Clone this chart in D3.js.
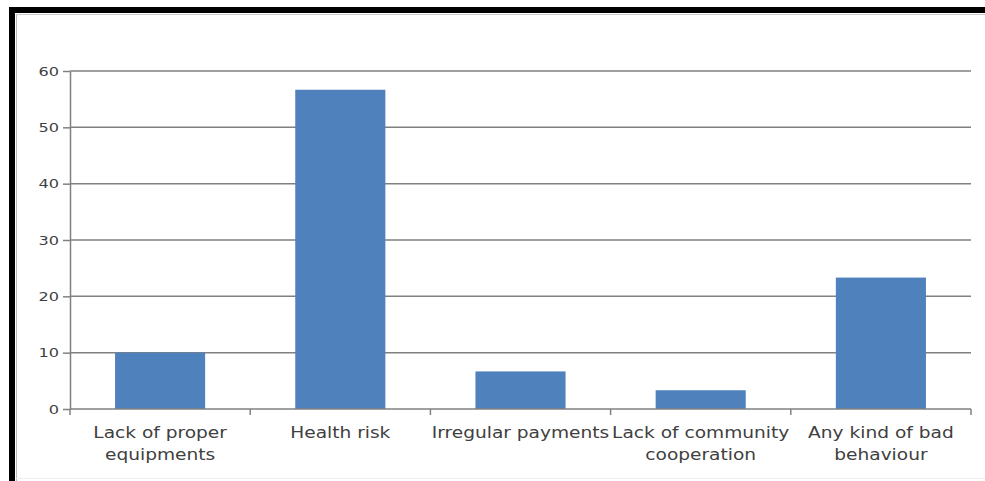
<!DOCTYPE html>
<html><head><meta charset="utf-8">
<script src="https://cdn.jsdelivr.net/npm/d3@7"></script>
<style>html,body{margin:0;padding:0;background:#fff;}svg{display:block;}</style>
</head><body>
<svg id="c" width="985" height="481"></svg>
<script>
const categories = [["Lack of proper","equipments"],["Health risk"],["Irregular payments"],["Lack of community","cooperation"],["Any kind of bad","behaviour"]];
const values = [10, 56.67, 6.67, 3.33, 23.33];
const yTicks = [0, 10, 20, 30, 40, 50, 60];

(function(){
const svg = d3.select("#c");
const mLeft = 70, mRight = 971, mTop = 71, mBottom = 409;
const sx = 1.24; // horizontal stretch of text

// frame
svg.append("rect").attr("x",9).attr("y",7).attr("width",976).attr("height",6).attr("fill","#000");
svg.append("rect").attr("x",9).attr("y",7).attr("width",6).attr("height",474).attr("fill","#000");
svg.append("line").attr("x1",16.5).attr("x2",16.5).attr("y1",14).attr("y2",481).attr("stroke","#bbb").attr("stroke-width",1);
svg.append("line").attr("x1",16).attr("x2",985).attr("y1",14.5).attr("y2",14.5).attr("stroke","#ccc").attr("stroke-width",1);
svg.append("line").attr("x1",16).attr("x2",985).attr("y1",478.5).attr("y2",478.5).attr("stroke","#eee").attr("stroke-width",1);

const x = d3.scaleBand().domain(categories.map((d,i)=>i)).range([mLeft,mRight]).paddingInner(0.5).paddingOuter(0.25);
const y = d3.scaleLinear().domain([0,60]).range([mBottom,mTop]);

// gridlines
svg.append("g").selectAll("line").data(yTicks.filter(t=>t>0)).join("line")
  .attr("x1",mLeft).attr("x2",mRight).attr("y1",d=>y(d)).attr("y2",d=>y(d))
  .attr("stroke","#808080").attr("stroke-width",1.5);

// bars
svg.append("g").selectAll("rect").data(values).join("rect")
  .attr("x",(d,i)=>x(i)).attr("width",x.bandwidth())
  .attr("y",d=>y(d)).attr("height",d=>y(0)-y(d))
  .attr("fill","#4f81bd");

// y axis
const yAxis = d3.axisLeft(y).tickValues(yTicks).tickSize(7).tickSizeOuter(0).tickPadding(4);
const gy = svg.append("g").attr("transform",`translate(${mLeft},0)`).call(yAxis);
gy.select(".domain").attr("stroke","#808080").attr("stroke-width",1.5);
gy.selectAll(".tick line").attr("stroke","#808080").attr("stroke-width",1.5);
gy.selectAll(".tick text")
  .attr("font-family","DejaVu Sans, Verdana, sans-serif").attr("font-size",13).attr("fill","#404040")
  .attr("x", -11/sx).attr("transform",`scale(${sx},1)`);

// x axis baseline and ticks
const xb = d3.scalePoint().domain(d3.range(categories.length+1)).range([mLeft,mRight]);
svg.append("line").attr("x1",mLeft).attr("x2",mRight).attr("y1",mBottom).attr("y2",mBottom).attr("stroke","#808080").attr("stroke-width",1.5);
svg.append("g").selectAll("line").data(d3.range(categories.length+1)).join("line")
  .attr("x1",d=>xb(d)).attr("x2",d=>xb(d)).attr("y1",mBottom).attr("y2",mBottom+6)
  .attr("stroke","#808080").attr("stroke-width",1.5);

// category labels
const lab = svg.append("g").selectAll("text").data(categories).join("text")
  .attr("transform",(d,i)=>`translate(${x(i)+x.bandwidth()/2},438) scale(${sx},1)`)
  .attr("text-anchor","middle").attr("font-family","DejaVu Sans, Verdana, sans-serif")
  .attr("font-size",15).attr("fill","#404040");
lab.each(function(d){
  const t = d3.select(this);
  d.forEach((line,j)=>{
    t.append("tspan").attr("x",0).attr("dy", j===0?0:22).text(line);
  });
});
})();
</script>
</body></html>
